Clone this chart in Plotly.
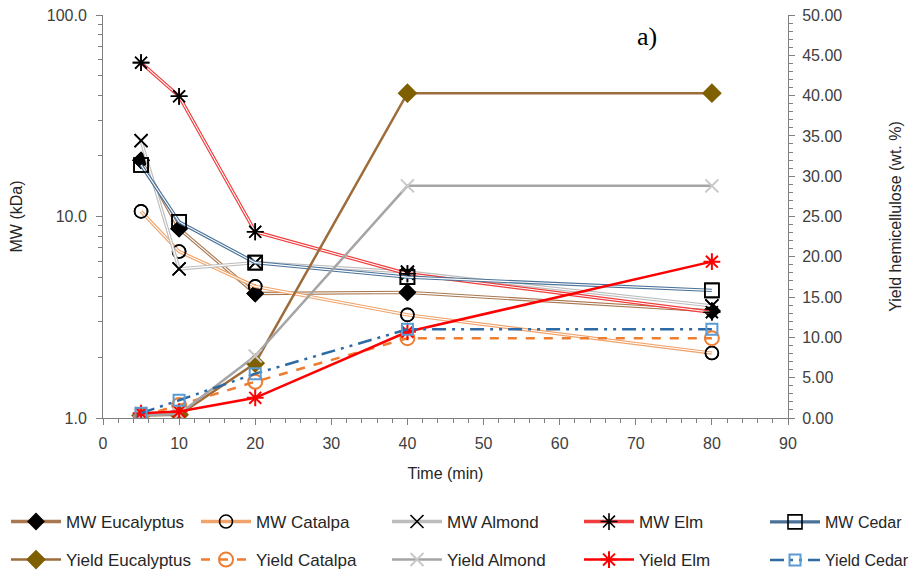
import plotly.graph_objects as go

time = [5, 10, 20, 40, 80]

mw_eucalyptus = [19.0, 8.7, 4.15, 4.2, 3.4]
mw_catalpa = [10.6, 6.7, 4.5, 3.25, 2.1]
mw_almond = [23.8, 5.5, 5.9, 5.3, 3.6]
mw_elm = [58.0, 39.5, 8.4, 5.2, 3.35]
mw_cedar = [18.0, 9.4, 5.9, 5.0, 4.3]

y_eucalyptus = [0.3, 0.4, 6.8, 40.3, 40.3]
y_catalpa = [0.2, 1.6, 4.5, 9.9, 9.9]
y_almond = [0.3, 0.5, 7.7, 28.8, 28.8]
y_elm = [0.6, 0.8, 2.5, 10.7, 19.4]
y_cedar = [0.6, 2.2, 5.5, 11.0, 11.0]

# plot area in the viewport: x 103..788, y 15..418 (body margin removed by post_script)
PL, PR, PT, PB = 103, 788, 15, 418
W, H = 913, 575
PW, PH = PR - PL, PB - PT

def px_x(vx):
    return (vx - PL) / PW

def px_y(vy):
    return (PB - vy) / PH

fig = go.Figure()

mw_series = [
    ("MW Eucalyptus", mw_eucalyptus, "#A97850", "diamond", 12),
    ("MW Catalpa", mw_catalpa, "#F0A36A", "circle-open", 13),
    ("MW Almond", mw_almond, "#BDBDBD", "x-thin-open", 13),
    ("MW Elm", mw_elm, "#F03C3C", "asterisk-open", 14),
    ("MW Cedar", mw_cedar, "#4A7299", "square-open", 14),
]

col_starts = [12, 202, 393, 585, 771]
row_y = [522, 560]
legend_font_sizes = [17, 17, 17, 17, 16]

legends = {}
for i, (name, vals, col, sym, sz) in enumerate(mw_series):
    lg = "legend" if i == 0 else f"legend{i + 1}"
    legends[lg] = (col_starts[i], row_y[0], legend_font_sizes[i])
    fig.add_trace(go.Scatter(
        x=time, y=vals, name=name, mode="lines+markers",
        line=dict(color=col, width=3.4),
        marker=dict(symbol=sym, size=sz, color="black",
                    line=dict(color="black", width=1.6)),
        legend=lg, yaxis="y"))
    fig.add_trace(go.Scatter(
        x=time, y=vals, mode="lines", showlegend=False, hoverinfo="skip",
        line=dict(color="white", width=1.1), yaxis="y"))
    fig.add_trace(go.Scatter(
        x=time, y=vals, mode="markers", showlegend=False, hoverinfo="skip",
        marker=dict(symbol=sym, size=sz, color="black",
                    line=dict(color="black", width=1.6)),
        yaxis="y"))

yield_series = [
    ("Yield Eucalyptus", y_eucalyptus, "#9E6B3A", "diamond", 13, "#7F6000", "solid"),
    ("Yield Catalpa", y_catalpa, "#ED7D31", "circle-open", 14, "#ED7D31", "dash"),
    ("Yield Almond", y_almond, "#A5A5A5", "x-thin-open", 13, "#C8C8C8", "solid"),
    ("Yield Elm", y_elm, "#FF0000", "asterisk-open", 14, "#FF0000", "solid"),
    ("Yield Cedar", y_cedar, "#2E6AA4", "square-open", 11, "#5B9BD5", "14px,6px,3px,6px,3px,6px"),
]

for i, (name, vals, col, sym, sz, mcol, dash) in enumerate(yield_series):
    lg = f"legend{i + 6}"
    legends[lg] = (col_starts[i], row_y[1], legend_font_sizes[i])
    fig.add_trace(go.Scatter(
        x=time, y=vals, name=name, mode="lines+markers",
        line=dict(color=col, width=2.5, dash=dash),
        marker=dict(symbol=sym, size=sz, color=mcol,
                    line=dict(color=mcol, width=2)),
        legend=lg, yaxis="y2"))

legend_layout = {}
for lg, (sx, ry, fs) in legends.items():
    legend_layout[lg] = dict(
        x=px_x(sx - 6), y=px_y(ry), xanchor="left", yanchor="middle",
        orientation="v", itemwidth=50,
        font=dict(size=fs, color="#262626"), bgcolor="rgba(0,0,0,0)",
    )

TICKFONT = dict(size=16, color="#404040")
TITLEFONT = dict(size=16, color="#262626")

fig.update_layout(
    width=W, height=H,
    paper_bgcolor="white", plot_bgcolor="white",
    margin=dict(l=PL, r=W - PR, t=PT, b=H - PB, autoexpand=False),
    font=dict(family="Liberation Sans", size=16, color="#404040"),
    xaxis=dict(
        range=[0, 90], tickvals=[0, 10, 20, 30, 40, 50, 60, 70, 80, 90],
        showgrid=False, zeroline=False, showline=True, linecolor="#7F7F7F",
        ticks="outside", ticklen=6, tickcolor="#7F7F7F", ticklabelstandoff=5,
        minor=dict(dtick=2, ticks="outside", ticklen=4, tickcolor="#7F7F7F"),
        title=dict(text="Time (min)", font=TITLEFONT, standoff=16),
        tickfont=TICKFONT,
    ),
    yaxis=dict(
        type="log", range=[0, 2],
        tickvals=[1, 10, 100], ticktext=["1.0", "10.0", "100.0"],
        showgrid=False, zeroline=False, showline=True, linecolor="#7F7F7F",
        ticks="outside", ticklen=6, tickcolor="#7F7F7F", ticklabelstandoff=6,
        ticklabeloverflow="allow",
        minor=dict(tickvals=[2, 3, 4, 5, 6, 7, 8, 9, 20, 30, 40, 50, 60, 70, 80, 90],
                   ticks="outside", ticklen=4, tickcolor="#7F7F7F"),
        title=dict(text="MW (kDa)", font=TITLEFONT, standoff=20),
        tickfont=TICKFONT,
    ),
    yaxis2=dict(
        overlaying="y", side="right", range=[0, 50], dtick=5,
        tickformat=".2f",
        showgrid=False, zeroline=False, showline=True, linecolor="#7F7F7F",
        ticks="outside", ticklen=6, tickcolor="#7F7F7F", ticklabelstandoff=4,
        ticklabeloverflow="allow",
        minor=dict(dtick=1, ticks="outside", ticklen=4, tickcolor="#7F7F7F"),
        title=dict(text="Yield hemicellulose (wt. %)", font=TITLEFONT, standoff=48),
        tickfont=TICKFONT,
    ),
    annotations=[dict(
        text="a)", xref="paper", yref="paper", x=px_x(647), y=px_y(37),
        xanchor="center", yanchor="middle", showarrow=False,
        font=dict(family="Liberation Serif", size=26, color="black"))],
    showlegend=True,
    **legend_layout,
)

fig.write_html("out.html", config={"displayModeBar": False},
               post_script="document.body.style.margin='0px';")
